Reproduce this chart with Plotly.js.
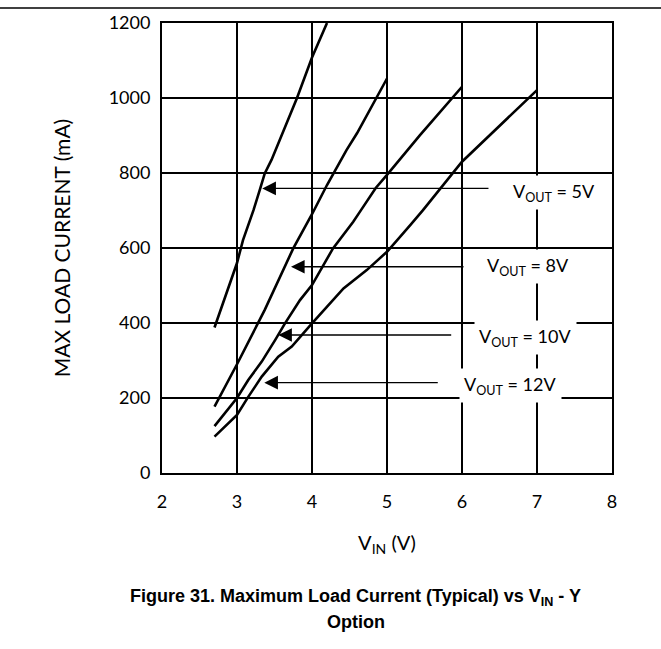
<!DOCTYPE html>
<html>
<head>
<meta charset="utf-8">
<script src="https://cdn.plot.ly/plotly-3.0.1.min.js"></script>
<style>
  html, body { margin: 0; padding: 0; background: #ffffff; }
  #chart { width: 661px; height: 649px; }
</style>
</head>
<body>
<div id="chart"></div>
<script>
// ---- Data ----
const vin5V  = [2.7, 3.0, 3.08, 3.22, 3.31, 3.37, 3.46, 3.8, 4.0, 4.2];
const iout5V = [388, 560, 621, 701, 759, 799, 835, 1000, 1108, 1200];

const vin8V  = [2.7, 3.0, 3.37, 3.75, 4.0, 4.2, 4.46, 4.6, 5.0];
const iout8V = [177, 290, 435, 599, 690, 768, 861, 906, 1052];

const vin10V  = [2.7, 3.0, 3.15, 3.33, 3.51, 3.64, 3.84, 4.0, 4.28, 4.55, 4.64, 4.85, 5.0, 5.44, 6.0];
const iout10V = [125, 200, 248, 297, 355, 399, 461, 501, 599, 670, 697, 760, 795, 901, 1030];

const vin12V  = [2.7, 3.0, 3.15, 3.33, 3.55, 3.73, 4.0, 4.26, 4.42, 4.73, 5.0, 5.31, 5.48, 6.0, 6.46, 7.0];
const iout12V = [97, 155, 203, 257, 310, 337, 399, 457, 492, 541, 590, 661, 701, 830, 919, 1021];

const xTicks = [2, 3, 4, 5, 6, 7, 8];
const yTicks = [0, 200, 400, 600, 800, 1000, 1200];

const seriesNames = ['V<sub>OUT</sub> = 5V', 'V<sub>OUT</sub> = 8V', 'V<sub>OUT</sub> = 10V', 'V<sub>OUT</sub> = 12V'];

// label placement (annotation positions) and arrow geometry
const labelX = [7.23, 6.88, 6.84, 6.65];
const labelY = [749, 550, 362, 234];
const arrowTipX = [3.337, 3.72, 3.55, 3.364];
const arrowTailX = [6.373, 6.04, 5.876, 5.697];
const arrowY = [759, 550, 368, 241];

const lineStyle = { color: '#000000', width: 2.6 };
const traces = [
  [vin5V, iout5V], [vin8V, iout8V], [vin10V, iout10V], [vin12V, iout12V]
].map((s, i) => ({
  x: s[0], y: s[1], type: 'scatter', mode: 'lines',
  name: seriesNames[i], line: lineStyle, hoverinfo: 'x+y'
}));

const annotations = [];
for (let i = 0; i < 4; i++) {
  annotations.push({
    x: arrowTipX[i], y: arrowY[i], xref: 'x', yref: 'y',
    ax: arrowTailX[i], ay: arrowY[i], axref: 'x', ayref: 'y',
    text: '', showarrow: true, arrowhead: 2, arrowsize: 2.1, arrowwidth: 1.3,
    arrowcolor: '#000000', standoff: 0, startstandoff: 0
  });
  annotations.push({
    x: labelX[i], y: labelY[i], xref: 'x', yref: 'y',
    text: seriesNames[i], showarrow: false,
    font: { family: 'Lato, sans-serif', size: 18, color: '#000000' },
    bgcolor: '#ffffff', borderpad: 4, xanchor: 'center', yanchor: 'middle'
  });
}
// figure caption
annotations.push({
  x: 0.431, y: -0.2756, xref: 'paper', yref: 'paper',
  text: '<b>Figure 31. Maximum Load Current (Typical) vs V<sub>IN</sub> - Y</b>',
  showarrow: false, xanchor: 'center', yanchor: 'middle',
  font: { family: 'Liberation Sans, Arial, sans-serif', size: 18, color: '#000000' }
});
annotations.push({
  x: 0.431, y: -0.331, xref: 'paper', yref: 'paper',
  text: '<b>Option</b>',
  showarrow: false, xanchor: 'center', yanchor: 'middle',
  font: { family: 'Liberation Sans, Arial, sans-serif', size: 18, color: '#000000' }
});

const layout = {
  width: 661, height: 649,
  margin: { l: 162, r: 49, t: 23, b: 176 },
  paper_bgcolor: '#ffffff', plot_bgcolor: '#ffffff',
  showlegend: false,
  font: { family: 'Lato, sans-serif', color: '#000000' },
  xaxis: {
    range: [2, 8], tickvals: xTicks, ticktext: xTicks.map(String),
    showgrid: true, gridcolor: '#000000', gridwidth: 1.3,
    showline: true, linecolor: '#000000', linewidth: 2, mirror: true,
    ticks: '', zeroline: false, ticklabelstandoff: 11,
    tickfont: { family: 'Lato, sans-serif', size: 18, color: '#000000' },
    title: { text: 'V<sub>IN</sub> (V)', standoff: 25,
             font: { family: 'Lato, sans-serif', size: 20, color: '#000000' } }
  },
  yaxis: {
    range: [0, 1200], tickvals: yTicks, ticktext: yTicks.map(String),
    showgrid: true, gridcolor: '#000000', gridwidth: 1.3,
    showline: true, linecolor: '#000000', linewidth: 2, mirror: true,
    ticks: '', zeroline: false, ticklabelstandoff: 6,
    tickfont: { family: 'Lato, sans-serif', size: 18, color: '#000000' },
    title: { text: 'MAX LOAD CURRENT (mA)', standoff: 32,
             font: { family: 'Lato, sans-serif', size: 21, color: '#000000' } }
  },
  shapes: [{
    type: 'line', xref: 'paper', yref: 'paper',
    x0: -0.36, x1: 1.109, y0: 1.0333, y1: 1.0333,
    line: { color: '#000000', width: 1.6 }
  }],
  annotations: annotations
};

Plotly.newPlot('chart', traces, layout, { displayModeBar: false, staticPlot: true });
</script>
</body>
</html>
